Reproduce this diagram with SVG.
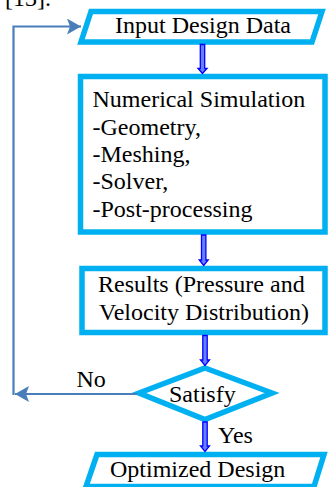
<svg xmlns="http://www.w3.org/2000/svg" width="328" height="487" viewBox="0 0 328 487">
<style>
text{font-family:'Liberation Serif', serif;font-size:24px;fill:#000}
.shape{fill:#fff;stroke:#00B0F0;stroke-width:5.5;stroke-linejoin:miter}
.flow{fill:#6680FF;stroke:#0000FF;stroke-width:1.3;stroke-linejoin:miter}
.loop{fill:none;stroke:#4A7EBB;stroke-width:2.2}
</style>
<defs>
<marker id="ah" markerUnits="userSpaceOnUse" markerWidth="15" markerHeight="16" refX="14" refY="8" orient="auto">
<path d="M0,0 L14,8 L0,16 L3,8 z" fill="#4A7EBB"/>
</marker>
</defs>
<rect width="328" height="487" fill="#fff"/>
<g font-family="Liberation Serif, serif" font-size="24">
<text x="5" y="6">[13].</text>
<g id="input">
<polygon class="shape" points="91,11.5 322,11.5 312,42 81,42"/>
<text x="115" y="33">Input Design Data</text>
</g>
<g id="simulation">
<rect class="shape" x="80.5" y="76.5" width="244.5" height="155.5"/>
<text x="92.5" y="107">Numerical Simulation</text>
<text x="92.5" y="134.5">-Geometry,</text>
<text x="92.5" y="161.5">-Meshing,</text>
<text x="92.5" y="189">-Solver,</text>
<text x="92.5" y="216.5">-Post-processing</text>
</g>
<g id="results">
<rect class="shape" x="82" y="268.5" width="243" height="64"/>
<text x="98" y="292">Results (Pressure and</text>
<text x="99" y="320">Velocity Distribution)</text>
</g>
<g id="satisfy">
<polygon class="shape" points="205,368 272,393 205,419.5 139,393"/>
<text x="169" y="401.5">Satisfy</text>
</g>
<g id="optimized">
<polygon class="shape" points="97,454.5 324,454.5 314,486.5 86,486.5"/>
<text x="110" y="477">Optimized Design</text>
</g>
<g id="connectors">
<path class="flow" d="M200.3,44.5 L200.3,68.5 L198,68.5 L202.5,73.5 L207,68.5 L204.7,68.5 L204.7,44.5 Z"/>
<path class="flow" d="M201.5,235 L201.5,260 L199.2,260 L203.7,265.5 L208.2,260 L205.9,260 L205.9,235 Z"/>
<path class="flow" d="M202.8,335.5 L202.8,360 L200.5,360 L205,365.5 L209.5,360 L207.2,360 L207.2,335.5 Z"/>
<path class="flow" d="M202.8,422 L202.8,446 L200.5,446 L205,451.5 L209.5,446 L207.2,446 L207.2,422 Z"/>
<path class="loop" d="M137,394 L15,394" marker-end="url(#ah)"/>
<path class="loop" d="M13.5,395 L13.5,26.5 L81,26.5" marker-end="url(#ah)"/>
<text x="76.5" y="386.5">No</text>
<text x="218" y="443">Yes</text>
</g>
</g>
</svg>
